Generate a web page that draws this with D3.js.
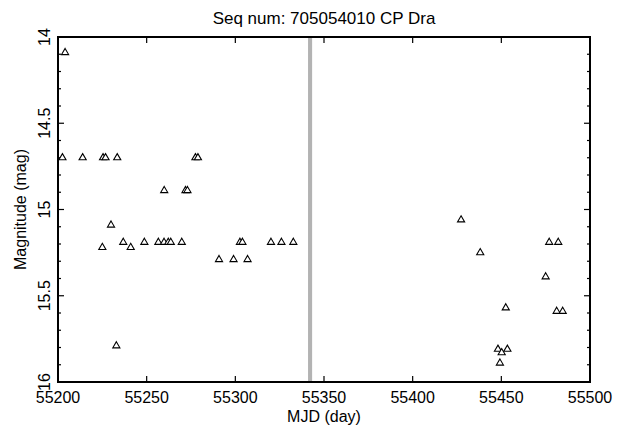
<!DOCTYPE html>
<html>
<head>
<meta charset="utf-8">
<script src="https://cdn.jsdelivr.net/npm/d3@7"></script>
<style>
  body { margin: 0; background: #fff; }
  svg text { font-family: "Liberation Sans", Arial, sans-serif; fill: #000; }
</style>
</head>
<body>
<div id="chart"></div>
<script>
const mjd = [
  55202.5, 55204.0, 55213.9, 55225.0, 55225.4, 55226.8, 55229.9, 55232.9, 55233.4,
  55236.8, 55241.0, 55248.7, 55256.6, 55259.8, 55259.9, 55262.2, 55263.6, 55269.8,
  55271.9, 55273.0, 55277.5, 55278.9, 55290.8, 55299.0, 55302.6, 55304.0, 55306.9,
  55320.1, 55326.0, 55332.7,
  55427.3, 55438.1, 55448.1, 55449.2, 55450.2, 55452.5, 55453.4, 55475.0, 55477.0,
  55481.2, 55482.1, 55484.6
];
const mag = [
  14.70, 14.09, 14.70, 15.22, 14.70, 14.70, 15.09, 15.79, 14.70,
  15.19, 15.22, 15.19, 15.19, 15.19, 14.89, 15.19, 15.19, 15.19,
  14.89, 14.89, 14.70, 14.70, 15.29, 15.29, 15.19, 15.19, 15.29,
  15.19, 15.19, 15.19,
  15.06, 15.25, 15.81, 15.89, 15.83, 15.57, 15.81, 15.39, 15.19,
  15.59, 15.19, 15.59
];
// gap marker (grey band)
const band = [55341.0, 55343.3];

const xTicks = [55200, 55250, 55300, 55350, 55400, 55450, 55500];
const yTicks = [14, 14.5, 15, 15.5, 16];
const yMinor = d3.range(14, 16.001, 0.1);

const titleText = "Seq num: 705054010 CP Dra";
const xLabel = "MJD (day)";
const yLabel = "Magnitude (mag)";

const width = 621, height = 432;
const margin = { top: 37, right: 31, bottom: 50, left: 58 };
const w = width - margin.left - margin.right;
const h = height - margin.top - margin.bottom;

const svg = d3.select("#chart").append("svg")
  .attr("width", width)
  .attr("height", height);

const g = svg.append("g")
  .attr("transform", `translate(${margin.left},${margin.top})`);

const x = d3.scaleLinear().domain([55200, 55500]).range([0, w]);
const y = d3.scaleLinear().domain([14, 16]).range([0, h]);

// grey band
g.append("rect")
  .attr("x", x(band[0]))
  .attr("y", 0)
  .attr("width", x(band[1]) - x(band[0]))
  .attr("height", h)
  .attr("fill", "#b3b3b3");

// ticks (all inward)
const tickG = g.append("g").attr("stroke", "#000").attr("stroke-width", 1.2);
xTicks.slice(1, -1).forEach(t => {
  tickG.append("line").attr("x1", x(t)).attr("x2", x(t)).attr("y1", h).attr("y2", h - 6);
  tickG.append("line").attr("x1", x(t)).attr("x2", x(t)).attr("y1", 0).attr("y2", 6);
});
yMinor.forEach(t => {
  const isMajor = yTicks.some(v => Math.abs(v - t) < 1e-6);
  const len = isMajor ? 6 : 3;
  tickG.append("line").attr("x1", 0).attr("x2", len).attr("y1", y(t)).attr("y2", y(t));
  tickG.append("line").attr("x1", w).attr("x2", w - len).attr("y1", y(t)).attr("y2", y(t));
});

// frame
g.append("rect")
  .attr("width", w)
  .attr("height", h)
  .attr("fill", "none")
  .attr("stroke", "#000")
  .attr("stroke-width", 2);

// x tick labels
g.selectAll(".xt")
  .data(xTicks)
  .enter()
  .append("text")
  .attr("x", d => x(d))
  .attr("y", h + 21)
  .attr("text-anchor", "middle")
  .style("font-size", "16px")
  .text(d => d);

// y tick labels (rotated)
g.selectAll(".yt")
  .data(yTicks)
  .enter()
  .append("text")
  .attr("transform", d => `translate(-8,${y(d)}) rotate(-90)`)
  .attr("text-anchor", "middle")
  .style("font-size", "16px")
  .text(d => d);

// points
const tri = d3.symbol().type(d3.symbolTriangle).size(22);
g.selectAll(".pt")
  .data(mjd.map((d, i) => [d, mag[i]]))
  .enter()
  .append("path")
  .attr("d", tri)
  .attr("transform", d => `translate(${x(d[0])},${y(d[1])})`)
  .attr("fill", "#fff")
  .attr("stroke", "#000")
  .attr("stroke-width", 1.1);

// title and axis labels
svg.append("text")
  .attr("x", margin.left + w / 2)
  .attr("y", 24)
  .attr("text-anchor", "middle")
  .style("font-size", "17px")
  .text(titleText);

svg.append("text")
  .attr("x", margin.left + w / 2)
  .attr("y", 422)
  .attr("text-anchor", "middle")
  .style("font-size", "16px")
  .text(xLabel);

svg.append("text")
  .attr("transform", `translate(26,${margin.top + h / 2}) rotate(-90)`)
  .attr("text-anchor", "middle")
  .style("font-size", "16px")
  .text(yLabel);
</script>
</body>
</html>
